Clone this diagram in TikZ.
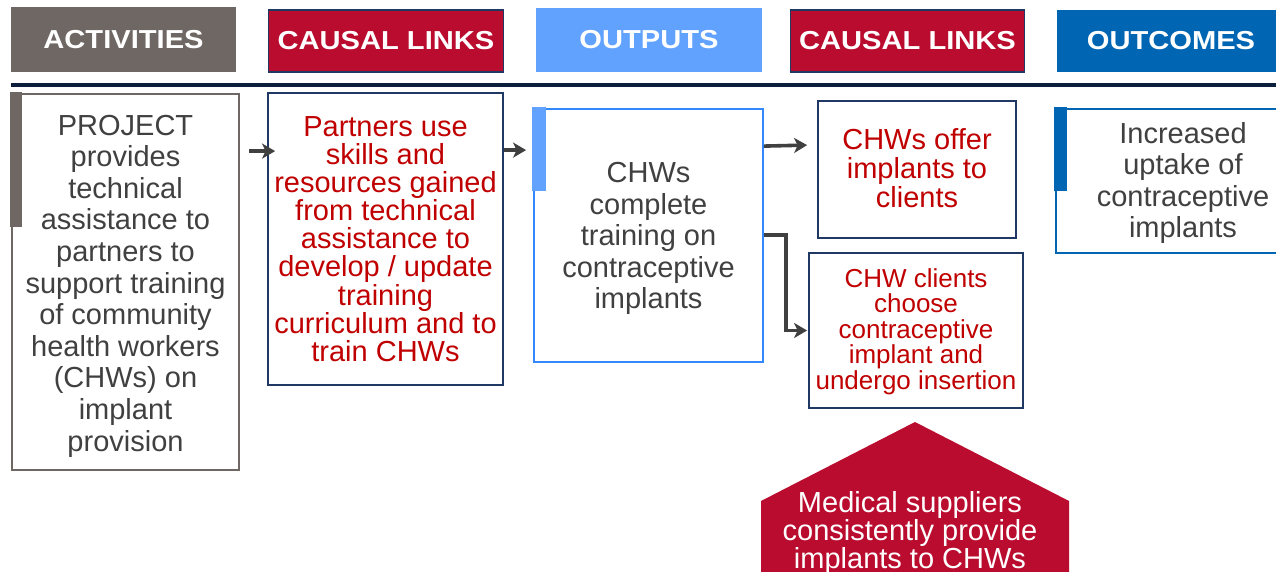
\documentclass[tikz,border=0pt]{standalone}
\usepackage{fontspec}
\setmainfont{Liberation Sans}
\newfontfamily\hdrfont[FakeStretch=1.12]{Liberation Sans}
\usetikzlibrary{arrows.meta}

\definecolor{actgray}{RGB}{110,103,100}
\definecolor{causalred}{RGB}{186,12,47}
\definecolor{navy}{RGB}{31,56,100}
\definecolor{outblue}{RGB}{97,162,255}
\definecolor{outedge}{RGB}{51,136,255}
\definecolor{ocblue}{RGB}{0,102,179}
\definecolor{rulenavy}{RGB}{12,31,61}
\definecolor{bodygray}{RGB}{64,64,64}
\definecolor{bodyred}{RGB}{192,0,0}
\definecolor{arrowgray}{RGB}{64,64,64}

\begin{document}
\begin{tikzpicture}[x=1pt,y=-1pt,
  hdr/.style={inner sep=0pt, text=white, font=\hdrfont\bfseries\fontsize{26pt}{28pt}\selectfont},
  box/.style={inner sep=0pt, line width=1.8pt, fill=white},
  label/.style={inner sep=0pt, align=center},
  grey text/.style={label, text=bodygray, font=\fontsize{29pt}{31.6pt}\selectfont},
  red text/.style={label, text=bodyred, font=\fontsize{29pt}{28.1pt}\selectfont},
  arr/.style={draw=arrowgray, line width=3.6pt, -{Stealth[length=13pt,width=15pt,inset=3.5pt]}}
]
\clip (0,0) rectangle (1276,572);
\fill[white] (0,0) rectangle (1276,572);

% column headers
\node[hdr, fill=actgray, minimum width=225pt, minimum height=65pt] (hAct) at (123.5,39.5) {ACTIVITIES};
\node[hdr, fill=causalred, draw=navy, line width=1.5pt, minimum width=235pt, minimum height=62pt] (hCausalA) at (386,41) {CAUSAL LINKS};
\node[hdr, fill=outblue, minimum width=226pt, minimum height=64pt] (hOut) at (649,40) {OUTPUTS};
\node[hdr, fill=causalred, draw=navy, line width=1.5pt, minimum width=234pt, minimum height=62pt] (hCausalB) at (907.5,41) {CAUSAL LINKS};
\node[hdr, fill=ocblue, minimum width=228pt, minimum height=62pt] (hOc) at (1171,41) {OUTCOMES};

% separating rule
\draw[rulenavy, line width=4.5pt] (11,85) -- (1290,85);

% body boxes
\node[box, draw=actgray, minimum width=227pt, minimum height=376pt] (act) at (125.5,282) {};
\node[box, draw=navy, minimum width=235pt, minimum height=292pt] (ca) at (385.5,239) {};
\node[box, draw=outedge, minimum width=229pt, minimum height=253pt] (out) at (648.5,235.5) {};
\node[box, draw=navy, minimum width=198pt, minimum height=137pt] (offer) at (917,169.5) {};
\node[box, draw=navy, minimum width=214pt, minimum height=155pt] (clients) at (916,330.5) {};
\node[box, draw=ocblue, minimum width=254pt, minimum height=144pt] (oc) at (1183,181) {};

% accent bars on the left edges
\fill[actgray] ([shift={(-0.9,-0.9)}]act.north west) rectangle ++(12,135);
\fill[outblue] ([shift={(-0.9,-0.9)}]out.north west) rectangle ++(14,84);
\fill[ocblue] ([shift={(-0.9,-0.9)}]oc.north west) rectangle ++(13,84);

% box texts
\node[grey text] (actT) at ([shift={(0,4)}]act.center)
  {PROJECT\\provides\\technical\\assistance to\\partners to\\support training\\of community\\health workers\\(CHWs) on\\implant\\provision};
\node[red text] (caT) at ([shift={(0,0)}]ca.center)
  {Partners use\\skills and\\resources gained\\from technical\\assistance to\\develop / update\\training\\curriculum and to\\train CHWs};
\node[grey text] (outT) at ([shift={(0,3)}]out.center)
  {CHWs\\complete\\training on\\contraceptive\\implants};
\node[red text, font=\fontsize{29pt}{29pt}\selectfont] (offerT) at ([shift={(0,-1)}]offer.center)
  {CHWs offer\\implants to\\clients};
\node[red text, font=\fontsize{26pt}{25.5pt}\selectfont] (clientsT) at ([shift={(0,1)}]clients.center)
  {CHW clients\\choose\\contraceptive\\implant and\\undergo insertion};
\node[grey text, font=\fontsize{29pt}{31.3pt}\selectfont] (ocT) at ([shift={(0,2)}]oc.center)
  {Increased\\uptake of\\contraceptive\\implants};

% external assumption
\fill[causalred] (915,422) -- (1069,501) -- (1069,590) -- (761,590) -- (761,501) -- cycle;
\node[label, text=white, font=\fontsize{29pt}{27pt}\selectfont] (supply) at (910,533)
  {Medical suppliers\\consistently provide\\implants to CHWs};

% connectors
\draw[arr] ([shift={(9,58)}]act.north east) -- ([shift={(8,59)}]ca.north west);
\draw[arr] ([shift={(0,58)}]ca.north east) -- ([shift={(-7,42)}]out.north west);
\draw[arr] ([shift={(0,38)}]out.north east) -- ([shift={(-10,45)}]offer.north west);
\draw[arr] ([shift={(0,127)}]out.north east) -- ++(22,0) |- ([shift={(-1,0)}]clients.west);
\end{tikzpicture}
\end{document}
